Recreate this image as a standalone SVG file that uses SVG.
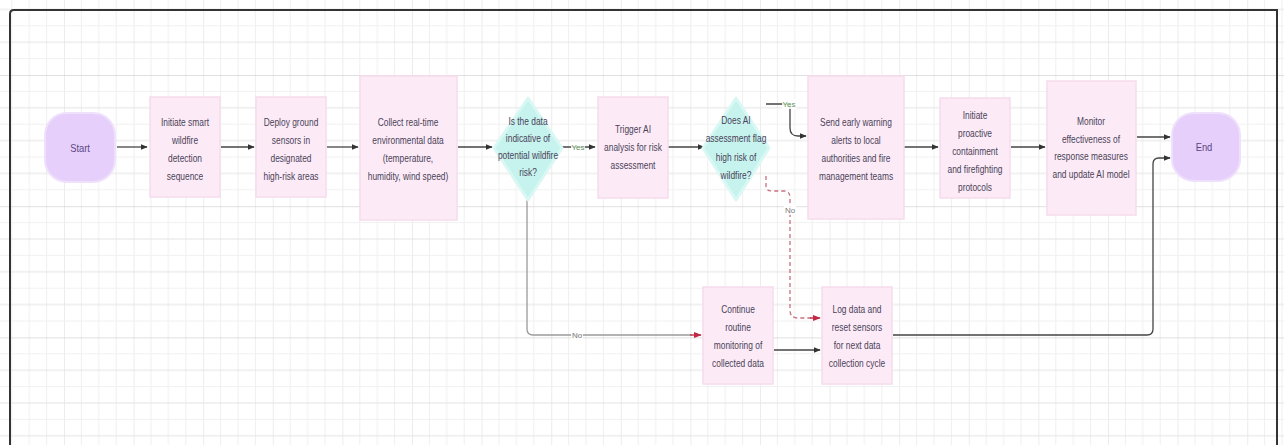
<svg xmlns="http://www.w3.org/2000/svg" width="1284" height="445" viewBox="0 0 1284 445">
<defs>
<pattern id="gv" width="69.6" height="20" patternUnits="userSpaceOnUse" patternTransform="translate(64,0)">
<path d="M17.4 0V20M34.8 0V20M52.2 0V20" stroke="#efefef" stroke-width="1"/>
<path d="M0 0V20" stroke="#e0e0e0" stroke-width="1.2"/>
</pattern>
<pattern id="gh" width="20" height="131.2" patternUnits="userSpaceOnUse" patternTransform="translate(0,75)">
<path d="M0 16.4H20M0 49.2H20M0 82H20M0 114.8H20" stroke="#f1f1f1" stroke-width="1"/>
<path d="M0 32.8H20M0 65.6H20M0 98.4H20" stroke="#e4e4e4" stroke-width="1"/>
<path d="M0 0H20" stroke="#cfcfcf" stroke-width="1.3"/>
</pattern>
<marker id="ah" viewBox="0 0 10 10" refX="9" refY="5" markerWidth="7" markerHeight="7" orient="auto" markerUnits="userSpaceOnUse">
<path d="M0 1L10 5L0 9z" fill="#333"/>
</marker>
<marker id="ahr" viewBox="0 0 10 10" refX="9" refY="5" markerWidth="8" markerHeight="8" orient="auto" markerUnits="userSpaceOnUse">
<path d="M0 1L10 5L0 9z" fill="#c02845"/>
</marker>
</defs>
<style>
.box{fill:#fcebf7;stroke:#f6dcec;stroke-width:1.5}
.term{fill:#e6cffa;stroke:#efe0fc;stroke-width:2}
.dia{fill:#c6f3ee;stroke:#d9f8f4;stroke-width:3;stroke-linejoin:round}
.t{font-family:"Liberation Sans",Arial,sans-serif;font-size:10.5px;fill:#4a4258;text-anchor:middle}
.tt{font-family:"Liberation Sans",Arial,sans-serif;font-size:11px;fill:#5b4585;text-anchor:middle}
.e{fill:none;stroke:#444;stroke-width:1.3;marker-end:url(#ah)}
.eg{fill:none;stroke:#9a9a9a;stroke-width:1.3}
.en{fill:none;stroke:#c9707e;stroke-width:1.3;stroke-dasharray:4 3}
.lbg{fill:#ffffff;fill-opacity:0.85}
.lb{font-family:"Liberation Sans",Arial,sans-serif;font-size:8px;fill:#7a7a7a;text-anchor:middle}
.lby{font-family:"Liberation Sans",Arial,sans-serif;font-size:8px;fill:#5f9358;text-anchor:middle}
</style>
<rect width="1284" height="445" fill="#ffffff"/>
<rect width="1284" height="445" fill="url(#gv)"/>
<rect width="1284" height="445" fill="url(#gh)"/>
<path d="M10 460V14Q10 10 14 10H1277V460" fill="none" stroke="#333" stroke-width="2"/>

<g id="connectors">
<path class="e" d="M117 147H147"/>
<path class="e" d="M221 147H254"/>
<path class="e" d="M327 147H358"/>
<path class="e" d="M458 147H492"/>
<path class="e" d="M562 147H595"/>
<rect class="lbg" x="571" y="142" width="14" height="10"/>
<text class="lby" x="578" y="150">Yes</text>
<path class="e" d="M668 147H704"/>
<path class="e" d="M766 104H790V128Q790 136 798 136H806"/>
<rect class="lbg" x="782" y="99" width="14" height="10"/>
<text class="lby" x="789" y="107">Yes</text>
<path class="en" d="M766 176V186Q766 191 772 191H784Q790 191 790 198V310Q790 318 798 318H812"/>
<path fill="none" stroke="#c02845" stroke-width="1.3" marker-end="url(#ahr)" d="M810 318H820"/>
<rect class="lbg" x="784" y="205" width="12" height="10"/>
<text class="lb" x="790" y="213">No</text>
<path class="eg" d="M527 200V329Q527 335 533 335H692"/>
<path fill="none" stroke="#c02845" stroke-width="1.3" marker-end="url(#ahr)" d="M690 335H701"/>
<rect class="lbg" x="571" y="330" width="12" height="10"/>
<text class="lb" x="577" y="338">No</text>
<path class="e" d="M774 350H820"/>
<path class="e" d="M893 335H1147Q1153 335 1153 329V164Q1153 158 1159 158H1170"/>
<path class="e" d="M904 147H938"/>
<path class="e" d="M1011 147H1045"/>
<path class="e" d="M1137 137H1170"/>
</g>

<g id="start">
<rect class="term" x="45" y="113" width="70" height="69" rx="22"/>
<g transform="translate(80 0) scale(0.85 1)"><text class="tt" x="0" y="152">Start</text></g>
</g>
<g id="n1">
<rect class="box" x="150" y="97" width="70" height="100"/>
<g transform="translate(185 0) scale(0.8 1)"><text class="t"><tspan x="0" y="126.5">Initiate smart</tspan><tspan x="0" y="144.5">wildfire</tspan><tspan x="0" y="162.5">detection</tspan><tspan x="0" y="180.5">sequence</tspan></text></g>
</g>
<g id="n2">
<rect class="box" x="256" y="97" width="70" height="100"/>
<g transform="translate(291 0) scale(0.8 1)"><text class="t"><tspan x="0" y="126.5">Deploy ground</tspan><tspan x="0" y="144.5">sensors in</tspan><tspan x="0" y="162.5">designated</tspan><tspan x="0" y="180.5">high-risk areas</tspan></text></g>
</g>
<g id="n3">
<rect class="box" x="360" y="76" width="97" height="144"/>
<g transform="translate(408 0) scale(0.8 1)"><text class="t"><tspan x="0" y="126.5">Collect real-time</tspan><tspan x="0" y="144.5">environmental data</tspan><tspan x="0" y="162.5">(temperature,</tspan><tspan x="0" y="180.5">humidity, wind speed)</tspan></text></g>
</g>
<g id="d1">
<polygon class="dia" points="528,98 562,148 528,200 494,148"/>
<g transform="translate(528 0) scale(0.8 1)"><text class="t"><tspan x="0" y="125.5">Is the data</tspan><tspan x="0" y="142.5">indicative of</tspan><tspan x="0" y="159.5">potential wildfire</tspan><tspan x="0" y="176.5">risk?</tspan></text></g>
</g>
<g id="n4">
<rect class="box" x="598" y="97" width="70" height="101"/>
<g transform="translate(633 0) scale(0.8 1)"><text class="t"><tspan x="0" y="133.5">Trigger AI</tspan><tspan x="0" y="151.5">analysis for risk</tspan><tspan x="0" y="169.5">assessment</tspan></text></g>
</g>
<g id="d2">
<polygon class="dia" points="736,98 769,148 736,200 703,148"/>
<g transform="translate(736 0) scale(0.8 1)"><text class="t"><tspan x="0" y="124">Does AI</tspan><tspan x="0" y="142.5">assessment flag</tspan><tspan x="0" y="161">high risk of</tspan><tspan x="0" y="179.5">wildfire?</tspan></text></g>
</g>
<g id="n5">
<rect class="box" x="808" y="76" width="96" height="143"/>
<g transform="translate(856 0) scale(0.8 1)"><text class="t"><tspan x="0" y="126.5">Send early warning</tspan><tspan x="0" y="144.5">alerts to local</tspan><tspan x="0" y="162.5">authorities and fire</tspan><tspan x="0" y="180.5">management teams</tspan></text></g>
</g>
<g id="n6">
<rect class="box" x="940" y="98" width="70" height="100"/>
<g transform="translate(975 0) scale(0.8 1)"><text class="t"><tspan x="0" y="119.5">Initiate</tspan><tspan x="0" y="137.5">proactive</tspan><tspan x="0" y="155.5">containment</tspan><tspan x="0" y="173.5">and firefighting</tspan><tspan x="0" y="191.5">protocols</tspan></text></g>
</g>
<g id="n7">
<rect class="box" x="1047" y="81" width="89" height="134"/>
<g transform="translate(1091 0) scale(0.8 1)"><text class="t"><tspan x="0" y="125.5">Monitor</tspan><tspan x="0" y="143">effectiveness of</tspan><tspan x="0" y="160.5">response measures</tspan><tspan x="0" y="178">and update AI model</tspan></text></g>
</g>
<g id="end">
<rect class="term" x="1172" y="113" width="68" height="68" rx="22"/>
<g transform="translate(1204 0) scale(0.85 1)"><text class="tt" x="0" y="151">End</text></g>
</g>
<g id="n8">
<rect class="box" x="703" y="287" width="70" height="97"/>
<g transform="translate(738 0) scale(0.8 1)"><text class="t"><tspan x="0" y="313.5">Continue</tspan><tspan x="0" y="331.5">routine</tspan><tspan x="0" y="349.5">monitoring of</tspan><tspan x="0" y="367.5">collected data</tspan></text></g>
</g>
<g id="n9">
<rect class="box" x="822" y="287" width="70" height="97"/>
<g transform="translate(857 0) scale(0.8 1)"><text class="t"><tspan x="0" y="313.5">Log data and</tspan><tspan x="0" y="331.5">reset sensors</tspan><tspan x="0" y="349.5">for next data</tspan><tspan x="0" y="367.5">collection cycle</tspan></text></g>
</g>
</svg>
